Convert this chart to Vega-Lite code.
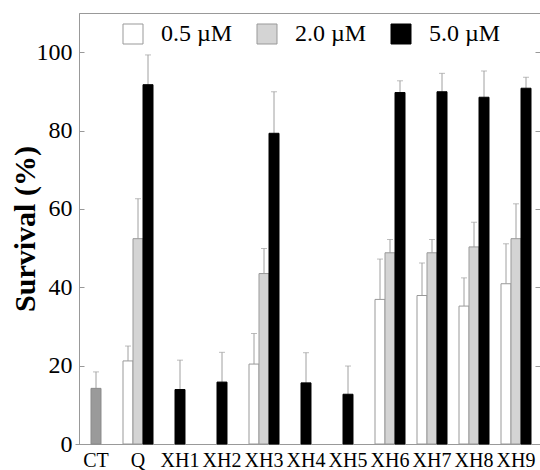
{
  "$schema": "https://vega.github.io/schema/vega-lite/v6.json",
  "width": 462,
  "height": 431,
  "autosize": {"type": "none"},
  "padding": {"left": 79, "top": 13, "right": 0, "bottom": 26},
  "config": {
    "font": "Liberation Serif",
    "view": {"stroke": "#999", "strokeWidth": 1},
    "axis": {"domainColor": "#999", "tickColor": "#999", "labelColor": "black", "titleColor": "black", "grid": false, "labelFont": "Liberation Serif", "titleFont": "Liberation Serif"},
    "legend": {"labelFont": "Liberation Serif"}
  },
  "data": {
    "values": [
      {"cpd": "CT", "conc": "none", "mean": 14.2, "hi": 18.4},
      {"cpd": "Q", "conc": "0.5 µM", "mean": 21.2, "hi": 25.0},
      {"cpd": "Q", "conc": "2.0 µM", "mean": 52.4, "hi": 62.6},
      {"cpd": "Q", "conc": "5.0 µM", "mean": 91.7, "hi": 99.3},
      {"cpd": "XH1", "conc": "5.0 µM", "mean": 13.9, "hi": 21.4},
      {"cpd": "XH2", "conc": "5.0 µM", "mean": 15.8, "hi": 23.4},
      {"cpd": "XH3", "conc": "0.5 µM", "mean": 20.4, "hi": 28.2},
      {"cpd": "XH3", "conc": "2.0 µM", "mean": 43.5, "hi": 49.9},
      {"cpd": "XH3", "conc": "5.0 µM", "mean": 79.3, "hi": 89.9},
      {"cpd": "XH4", "conc": "5.0 µM", "mean": 15.6, "hi": 23.3},
      {"cpd": "XH5", "conc": "5.0 µM", "mean": 12.7, "hi": 19.9},
      {"cpd": "XH6", "conc": "0.5 µM", "mean": 36.9, "hi": 47.2},
      {"cpd": "XH6", "conc": "2.0 µM", "mean": 48.8, "hi": 52.2},
      {"cpd": "XH6", "conc": "5.0 µM", "mean": 89.7, "hi": 92.7},
      {"cpd": "XH7", "conc": "0.5 µM", "mean": 37.9, "hi": 46.2},
      {"cpd": "XH7", "conc": "2.0 µM", "mean": 48.8, "hi": 52.2},
      {"cpd": "XH7", "conc": "5.0 µM", "mean": 89.9, "hi": 94.6},
      {"cpd": "XH8", "conc": "0.5 µM", "mean": 35.2, "hi": 42.4},
      {"cpd": "XH8", "conc": "2.0 µM", "mean": 50.3, "hi": 56.6},
      {"cpd": "XH8", "conc": "5.0 µM", "mean": 88.5, "hi": 95.2},
      {"cpd": "XH9", "conc": "0.5 µM", "mean": 40.9, "hi": 51.1},
      {"cpd": "XH9", "conc": "2.0 µM", "mean": 52.4, "hi": 61.3},
      {"cpd": "XH9", "conc": "5.0 µM", "mean": 90.8, "hi": 93.6}
    ]
  },
  "encoding": {
    "x": {
      "field": "cpd", "type": "nominal", "title": null,
      "scale": {"domain": ["CT", "Q", "XH1", "XH2", "XH3", "XH4", "XH5", "XH6", "XH7", "XH8", "XH9"], "paddingInner": 0, "paddingOuter": 0, "range": [-4, 458]},
      "axis": {"ticks": false, "labelAngle": 0, "labelFontSize": 20, "labelPadding": 6, "labelColor": "black", "labelFont": "Liberation Serif"}
    }
  },
  "resolve": {"axis": {"y": "independent"}},
  "layer": [
    {
      "transform": [{"filter": {"field": "cpd", "oneOf": ["Q", "XH3", "XH6", "XH7", "XH8", "XH9"]}}],
      "mark": {"type": "rule", "color": "#a0a0a0", "strokeWidth": 1},
      "encoding": {
        "xOffset": {"field": "conc", "type": "nominal", "scale": {"domain": ["0.5 µM", "2.0 µM", "5.0 µM"], "paddingInner": 0, "paddingOuter": 0.6}},
        "y": {"field": "mean", "type": "quantitative", "scale": {"domain": [0, 110], "nice": false}, "axis": null},
        "y2": {"field": "hi"}
      }
    },
    {
      "transform": [{"filter": {"field": "cpd", "oneOf": ["Q", "XH3", "XH6", "XH7", "XH8", "XH9"]}}],
      "mark": {"type": "tick", "orient": "horizontal", "color": "#a0a0a0", "thickness": 1, "size": 6},
      "encoding": {
        "xOffset": {"field": "conc", "type": "nominal", "scale": {"domain": ["0.5 µM", "2.0 µM", "5.0 µM"], "paddingInner": 0, "paddingOuter": 0.6}},
        "y": {"field": "hi", "type": "quantitative", "scale": {"domain": [0, 110], "nice": false}, "axis": null}
      }
    },
    {
      "transform": [{"filter": {"field": "cpd", "oneOf": ["Q", "XH3", "XH6", "XH7", "XH8", "XH9"]}}],
      "mark": {"type": "bar", "strokeWidth": 1},
      "encoding": {
        "xOffset": {"field": "conc", "type": "nominal", "scale": {"domain": ["0.5 µM", "2.0 µM", "5.0 µM"], "paddingInner": 0, "paddingOuter": 0.6}},
        "y": {
          "field": "mean", "type": "quantitative", "scale": {"domain": [0, 110], "nice": false},
          "axis": {"orient": "left", "values": [0, 20, 40, 60, 80, 100], "labelFontSize": 24, "labelFont": "Liberation Serif", "tickSize": -5, "labelPadding": 12, "title": "Survival (%)", "titleFont": "Liberation Serif", "titleFontSize": 30, "titleFontWeight": "bold", "titlePadding": -4}
        },
        "fill": {
          "field": "conc", "type": "nominal",
          "scale": {"domain": ["0.5 µM", "2.0 µM", "5.0 µM"], "range": ["white", "#d4d4d4", "black"]},
          "legend": {"title": null, "orient": "none", "legendX": 42, "legendY": 9, "direction": "horizontal", "symbolType": "square", "symbolSize": 400, "symbolStrokeWidth": 1, "labelFont": "Liberation Serif", "labelFontSize": 24, "labelColor": "black", "labelOffset": 16, "columnPadding": 22}
        },
        "stroke": {
          "field": "conc", "type": "nominal",
          "scale": {"domain": ["0.5 µM", "2.0 µM", "5.0 µM"], "range": ["#999", "#999", "black"]},
          "legend": {"title": null, "orient": "none", "legendX": 42, "legendY": 9, "direction": "horizontal", "symbolType": "square", "symbolSize": 400, "symbolStrokeWidth": 1, "labelFont": "Liberation Serif", "labelFontSize": 24, "labelColor": "black", "labelOffset": 16, "columnPadding": 22}
        }
      }
    },
    {
      "transform": [{"filter": {"field": "cpd", "oneOf": ["CT", "XH1", "XH2", "XH4", "XH5"]}}],
      "mark": {"type": "rule", "color": "#a0a0a0", "strokeWidth": 1},
      "encoding": {
        "y": {"field": "mean", "type": "quantitative", "scale": {"domain": [0, 110], "nice": false}, "axis": null},
        "y2": {"field": "hi"}
      }
    },
    {
      "transform": [{"filter": {"field": "cpd", "oneOf": ["CT", "XH1", "XH2", "XH4", "XH5"]}}],
      "mark": {"type": "tick", "orient": "horizontal", "color": "#a0a0a0", "thickness": 1, "size": 6},
      "encoding": {
        "y": {"field": "hi", "type": "quantitative", "scale": {"domain": [0, 110], "nice": false}, "axis": null}
      }
    },
    {
      "transform": [{"filter": {"field": "cpd", "oneOf": ["XH1", "XH2", "XH4", "XH5"]}}],
      "mark": {"type": "bar", "fill": "black", "stroke": "black", "strokeWidth": 1, "width": {"band": 0.238}},
      "encoding": {
        "y": {"field": "mean", "type": "quantitative", "scale": {"domain": [0, 110], "nice": false}, "axis": null}
      }
    },
    {
      "transform": [{"filter": {"field": "cpd", "equal": "CT"}}],
      "mark": {"type": "bar", "fill": "#9a9a9a", "stroke": "#8a8a8a", "strokeWidth": 1, "width": {"band": 0.238}},
      "encoding": {
        "y": {
          "field": "mean", "type": "quantitative", "scale": {"domain": [0, 110], "nice": false},
          "axis": {"orient": "right", "values": [0, 20, 40, 60, 80, 100], "labels": false, "title": null, "tickSize": 5, "domain": false, "offset": -6}
        }
      }
    }
  ]
}
